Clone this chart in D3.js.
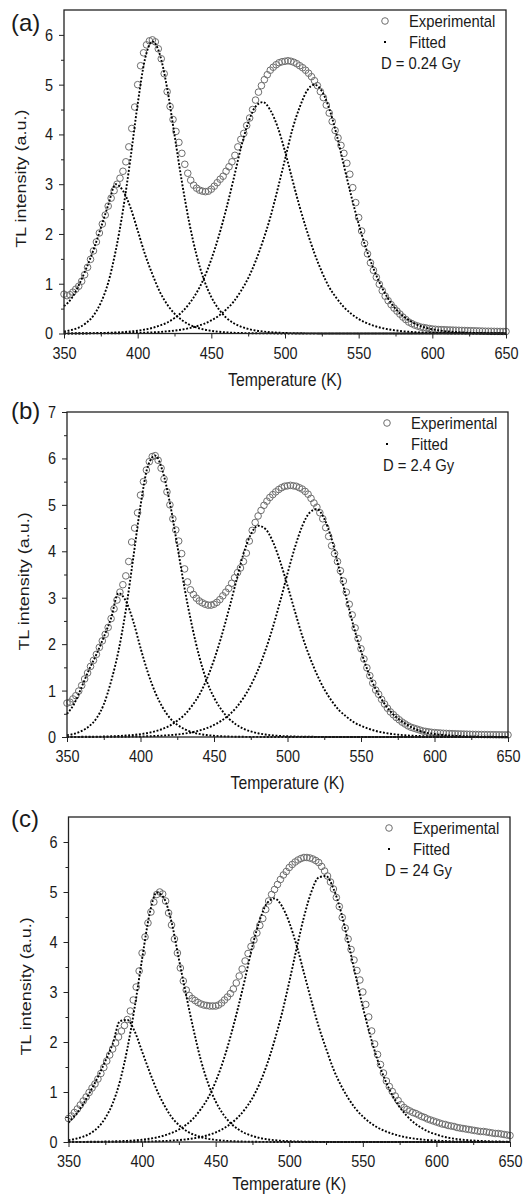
<!DOCTYPE html>
<html>
<head>
<meta charset="utf-8">
<script src="https://cdn.jsdelivr.net/npm/d3@7/dist/d3.min.js"></script>
<style>
  body { margin: 0; background: #fff; }
  text { font-family: "Liberation Sans", Arial, sans-serif; fill: #1a1a1a; }
</style>
</head>
<body>
<div id="chart"></div>
<script>
// Temperature grids (K): experimental points every 2 K, fitted curves every 5 K
var expStart = 350, expStep = 2;
var fitStart = 350, fitStep = 5;

// Axis ticks
var xTicks = [350, 400, 450, 500, 550, 600, 650];
var xMinorTicks = [375, 425, 475, 525, 575, 625];
var yTicksA = [0, 1, 2, 3, 4, 5, 6];
var yMinorA = [0.5, 1.5, 2.5, 3.5, 4.5, 5.5];
var yTicksB = [0, 1, 2, 3, 4, 5, 6, 7];
var yMinorB = [0.5, 1.5, 2.5, 3.5, 4.5, 5.5, 6.5];

var panelLabels = ["(a)", "(b)", "(c)"];
var doseLabels = ["D = 0.24 Gy", "D = 2.4 Gy", "D = 24 Gy"];
var legendLabels = ["Experimental", "Fitted"];

// ---- panel (a), D = 0.24 Gy ----
var expA = [
  0.79,0.76,0.78,0.83,0.89,0.95,1.05,1.18,1.33,1.49,
  1.66,1.84,2.02,2.20,2.38,2.56,2.72,2.87,3.00,3.12,
  3.26,3.45,3.75,4.12,4.55,5.00,5.38,5.64,5.80,5.88,
  5.90,5.86,5.72,5.52,5.22,4.86,4.56,4.30,4.06,3.84,
  3.62,3.40,3.22,3.08,2.98,2.92,2.88,2.86,2.85,2.86,
  2.90,2.96,3.03,3.10,3.16,3.26,3.35,3.45,3.58,3.75,
  3.90,4.02,4.18,4.33,4.50,4.69,4.85,4.98,5.10,5.20,
  5.29,5.35,5.40,5.44,5.46,5.47,5.48,5.47,5.45,5.42,
  5.38,5.34,5.29,5.23,5.16,5.08,4.98,4.86,4.74,4.59,
  4.43,4.26,4.08,3.93,3.78,3.62,3.42,3.20,2.93,2.63,
  2.33,2.06,1.81,1.60,1.42,1.27,1.13,0.99,0.86,0.75,
  0.66,0.58,0.51,0.45,0.39,0.33,0.28,0.23,0.20,0.17,
  0.15,0.13,0.12,0.11,0.10,0.09,0.085,0.08,0.078,0.075,
  0.072,0.07,0.068,0.066,0.064,0.062,0.06,0.058,0.056,0.054,
  0.052,0.05,0.048,0.046,0.045,0.044,0.043,0.042,0.041,0.04,
  0.04
];
var fitA1 = [
  0.55,0.70,0.97,1.30,1.68,2.12,2.58,3.00,2.87,2.54,
  2.07,1.59,1.19,0.84,0.585,0.40,0.27,0.18,0.12,0.08,
  0.053,0.035,0.023,0.015,0.01,0.007,0.004,0.003,0.002,0.001,
  0,0,0,0,0,0,0,0,0,0,0,0,0,0,0,0,0,0,0,0,0,0,0,0,0,0,0,0,0,0,0
];
var fitA2 = [
  0.04,0.07,0.12,0.21,0.36,0.62,1.02,1.65,2.47,3.49,
  4.61,5.52,5.87,5.61,4.93,3.99,3.05,2.23,1.57,1.08,
  0.73,0.49,0.32,0.21,0.14,0.092,0.06,0.04,0.026,0.017,
  0.011,0.007,0.005,0.003,0.002,0.001,
  0,0,0,0,0,0,0,0,0,0,0,0,0,0,0,0,0,0,0,0,0,0,0,0,0
];
var fitA3 = [
  0.002,0.003,0.004,0.006,0.008,0.011,0.014,0.02,0.028,0.04,
  0.056,0.08,0.113,0.16,0.22,0.31,0.43,0.60,0.82,1.11,
  1.49,1.95,2.49,3.09,3.72,4.23,4.56,4.65,4.49,4.15,
  3.66,3.09,2.54,2.05,1.61,1.24,0.93,0.71,0.53,0.395,
  0.29,0.215,0.158,0.116,0.085,0.062,0.045,0.033,0.024,0.018,
  0.013,0.009,0.007,0.005,0.004,0.003,0.002,0.002,0.001,0.001,
  0.001
];
var fitA4 = [
  0,0.001,0.001,0.001,0.002,0.003,0.004,0.005,0.007,0.009,
  0.012,0.017,0.023,0.031,0.043,0.058,0.078,0.107,0.145,0.195,
  0.265,0.354,0.48,0.635,0.85,1.11,1.45,1.86,2.33,2.90,
  3.50,4.10,4.55,4.88,5.00,4.87,4.52,4.00,3.37,2.76,
  2.20,1.71,1.31,0.97,0.70,0.50,0.35,0.25,0.17,0.12,
  0.085,0.06,0.042,0.03,0.021,0.015,0.011,0.008,0.006,0.004,
  0.003
];

// ---- panel (b), D = 2.4 Gy ----
var expB = [
  0.73,0.75,0.82,0.89,0.99,1.11,1.25,1.38,1.52,1.65,
  1.78,1.93,2.07,2.21,2.36,2.55,2.76,2.95,3.12,3.28,
  3.47,3.78,4.20,4.50,4.83,5.21,5.50,5.75,5.93,6.04,
  6.06,5.96,5.79,5.56,5.28,5.00,4.70,4.46,4.22,3.95,
  3.62,3.34,3.17,3.07,2.99,2.93,2.89,2.86,2.84,2.84,
  2.86,2.90,2.96,3.04,3.12,3.20,3.31,3.43,3.54,3.64,
  3.78,3.96,4.22,4.45,4.62,4.76,4.88,4.99,5.08,5.16,
  5.22,5.28,5.33,5.37,5.40,5.41,5.42,5.41,5.40,5.37,
  5.34,5.29,5.23,5.14,5.04,4.95,4.83,4.70,4.51,4.32,
  4.12,3.95,3.78,3.58,3.36,3.12,2.86,2.63,2.35,2.12,
  1.90,1.68,1.49,1.32,1.16,1.01,0.92,0.81,0.71,0.62,
  0.54,0.48,0.42,0.37,0.32,0.28,0.24,0.21,0.19,0.17,
  0.15,0.13,0.12,0.11,0.10,0.095,0.09,0.085,0.08,0.077,
  0.074,0.071,0.068,0.066,0.064,0.062,0.06,0.058,0.056,0.055,
  0.054,0.053,0.052,0.051,0.05,0.049,0.048,0.047,0.046,0.045,
  0.045
];
var fitB1 = [
  0.50,0.72,1.08,1.45,1.78,2.15,2.56,3.10,2.93,2.50,
  1.92,1.39,0.96,0.64,0.41,0.265,0.168,0.105,0.066,0.042,
  0.026,0.016,0.01,0.006,0.004,0.003,0.002,0.001,0,0,
  0,0,0,0,0,0,0,0,0,0,0,0,0,0,0,0,0,0,0,0,0,0,0,0,0,0,0,0,0,0,0
];
var fitB2 = [
  0.04,0.07,0.13,0.23,0.40,0.70,1.20,1.85,2.73,3.84,
  4.98,5.83,6.06,5.73,5.04,4.13,3.20,2.40,1.73,1.21,
  0.85,0.59,0.40,0.27,0.18,0.12,0.08,0.053,0.035,0.023,
  0.015,0.01,0.007,0.005,0.003,0.002,0.001,
  0,0,0,0,0,0,0,0,0,0,0,0,0,0,0,0,0,0,0,0,0,0,0,0
];
var fitB3 = [
  0.002,0.003,0.004,0.005,0.007,0.01,0.015,0.021,0.031,0.043,
  0.062,0.087,0.123,0.173,0.245,0.35,0.48,0.67,0.91,1.24,
  1.66,2.16,2.73,3.34,3.94,4.36,4.55,4.48,4.21,3.78,
  3.26,2.71,2.18,1.73,1.35,1.03,0.78,0.58,0.44,0.32,
  0.24,0.18,0.13,0.096,0.07,0.051,0.037,0.027,0.02,0.015,
  0.011,0.008,0.006,0.004,0.003,0.002,0.002,0.001,0.001,0.001,
  0
];
var fitB4 = [
  0,0.001,0.001,0.001,0.002,0.002,0.003,0.005,0.006,0.009,
  0.012,0.016,0.022,0.03,0.04,0.054,0.074,0.10,0.14,0.19,
  0.26,0.35,0.47,0.63,0.84,1.11,1.45,1.87,2.36,2.92,
  3.52,4.08,4.54,4.83,4.91,4.70,4.27,3.64,3.00,2.38,
  1.85,1.39,1.03,0.76,0.55,0.40,0.29,0.20,0.13,0.09,
  0.065,0.046,0.033,0.024,0.017,0.012,0.009,0.006,0.004,0.003,
  0.002
];

// ---- panel (c), D = 24 Gy ----
var expC = [
  0.47,0.52,0.59,0.66,0.74,0.82,0.90,0.99,1.08,1.16,
  1.26,1.37,1.49,1.62,1.74,1.86,1.98,2.10,2.22,2.33,
  2.45,2.62,2.84,3.10,3.42,3.78,4.10,4.38,4.60,4.80,
  4.95,5.00,4.96,4.82,4.58,4.34,4.06,3.78,3.48,3.22,
  3.04,2.93,2.87,2.83,2.79,2.76,2.74,2.73,2.72,2.72,
  2.72,2.74,2.78,2.84,2.90,2.97,3.06,3.18,3.32,3.46,
  3.62,3.77,3.91,4.04,4.18,4.33,4.47,4.65,4.82,4.95,
  5.05,5.15,5.25,5.34,5.41,5.49,5.55,5.60,5.64,5.67,
  5.69,5.69,5.68,5.66,5.63,5.59,5.51,5.42,5.32,5.20,
  5.06,4.89,4.71,4.49,4.28,4.06,3.85,3.64,3.43,3.24,
  3.00,2.75,2.50,2.22,1.96,1.75,1.55,1.38,1.22,1.11,
  1.01,0.92,0.83,0.75,0.69,0.65,0.62,0.59,0.57,0.54,
  0.51,0.49,0.46,0.44,0.42,0.40,0.38,0.36,0.35,0.33,
  0.32,0.31,0.29,0.28,0.27,0.26,0.25,0.24,0.23,0.22,
  0.21,0.21,0.20,0.19,0.18,0.17,0.17,0.16,0.15,0.14,
  0.13
];
var fitC1 = [
  0.39,0.55,0.76,1.02,1.30,1.62,1.96,2.42,2.44,2.21,
  1.81,1.41,1.04,0.74,0.50,0.34,0.225,0.149,0.098,0.064,
  0.042,0.028,0.018,0.012,0.008,0.005,0.003,0.002,0.001,0,
  0,0,0,0,0,0,0,0,0,0,0,0,0,0,0,0,0,0,0,0,0,0,0,0,0,0,0,0,0,0,0
];
var fitC2 = [
  0.038,0.064,0.107,0.175,0.29,0.48,0.77,1.22,1.87,2.70,
  3.66,4.55,4.99,4.87,4.40,3.66,2.93,2.24,1.63,1.16,
  0.81,0.56,0.38,0.26,0.175,0.12,0.08,0.054,0.036,0.024,
  0.016,0.011,0.007,0.005,0.003,0.002,0.001,
  0,0,0,0,0,0,0,0,0,0,0,0,0,0,0,0,0,0,0,0,0,0,0,0
];
var fitC3 = [
  0.0015,0.002,0.003,0.004,0.006,0.009,0.012,0.017,0.023,0.033,
  0.046,0.065,0.091,0.129,0.18,0.25,0.344,0.477,0.66,0.89,
  1.21,1.61,2.10,2.66,3.27,3.92,4.44,4.78,4.87,4.72,
  4.39,3.93,3.38,2.83,2.31,1.87,1.46,1.14,0.88,0.67,
  0.51,0.385,0.29,0.22,0.165,0.122,0.09,0.067,0.05,0.037,
  0.027,0.02,0.015,0.011,0.008,0.006,0.0045,0.003,0.0025,0.002,
  0.0013
];
var fitC4 = [
  0,0,0.001,0.001,0.001,0.002,0.002,0.003,0.004,0.006,
  0.008,0.011,0.015,0.02,0.028,0.038,0.053,0.073,0.10,0.14,
  0.19,0.265,0.36,0.49,0.66,0.88,1.18,1.56,2.03,2.57,
  3.20,3.87,4.50,5.00,5.29,5.32,5.07,4.62,4.00,3.34,
  2.70,2.13,1.64,1.25,0.94,0.70,0.52,0.38,0.28,0.20,
  0.15,0.105,0.076,0.055,0.04,0.029,0.021,0.015,0.011,0.008,
  0.006
];

// Page layout for the three stacked panels (pixel boxes of each plot frame)
var panels = [
  { left: 64, right: 506, top: 10, bottom: 333.5, yMax: 6.5, yTicks: yTicksA, yMinor: yMinorA,
    exp: expA, fits: [fitA1, fitA2, fitA3, fitA4], labelY: 31, titleY: 386 },
  { left: 67, right: 508, top: 412, bottom: 737, yMax: 7, yTicks: yTicksB, yMinor: yMinorB,
    exp: expB, fits: [fitB1, fitB2, fitB3, fitB4], labelY: 419, titleY: 789 },
  { left: 68.5, right: 510, top: 817, bottom: 1142, yMax: 6.5, yTicks: yTicksA, yMinor: yMinorA,
    exp: expC, fits: [fitC1, fitC2, fitC3, fitC4], labelY: 827, titleY: 1190 }
];

var svgWidth = 524;
var svgHeight = 1197;
var fontFamily = '"Liberation Sans", Arial, sans-serif';

var svg = d3.select("#chart")
  .append("svg")
  .attr("width", svgWidth)
  .attr("height", svgHeight);

function drawPanel(p, k) {
  var g = svg.append("g");

  var xScale = d3.scaleLinear().domain([350, 650]).range([p.left, p.right]);
  var yScale = d3.scaleLinear().domain([0, p.yMax]).range([p.bottom, p.top]);

  // experimental points as open grey circles
  g.append("g")
    .selectAll("circle")
    .data(p.exp)
    .join("circle")
    .attr("cx", (d, i) => xScale(expStart + i * expStep))
    .attr("cy", d => yScale(d))
    .attr("r", 3.3)
    .attr("fill", "none")
    .attr("stroke", "#6e6e6e")
    .attr("stroke-width", 1);

  // fitted glow peaks as dotted black curves
  var peakLine = d3.line()
    .x((d, i) => xScale(fitStart + i * fitStep))
    .y(d => yScale(d))
    .curve(d3.curveMonotoneX);

  g.append("g")
    .selectAll("path")
    .data(p.fits)
    .join("path")
    .attr("d", peakLine)
    .attr("fill", "none")
    .attr("stroke", "#000")
    .attr("stroke-width", 1.9)
    .attr("stroke-dasharray", "1.9,1.7");

  // x axis, major and minor ticks
  var xAxis = g.append("g")
    .attr("transform", `translate(0, ${p.bottom})`)
    .call(d3.axisBottom(xScale).tickValues(xTicks).tickSize(5).tickPadding(8))
    .attr("font-size", 17)
    .attr("font-family", fontFamily)
    .attr("color", "#222");
  xAxis.select(".domain").remove();
  xAxis.selectAll("text").attr("transform", "scale(0.85,1)");

  g.append("g")
    .attr("transform", `translate(0, ${p.bottom})`)
    .call(d3.axisBottom(xScale).tickValues(xMinorTicks).tickSize(3).tickFormat(""))
    .attr("color", "#222")
    .select(".domain").remove();

  // y axis, major and minor ticks
  var yAxis = g.append("g")
    .attr("transform", `translate(${p.left}, 0)`)
    .call(d3.axisLeft(yScale).tickValues(p.yTicks).tickSize(5).tickFormat(d3.format("d")))
    .attr("font-size", 17)
    .attr("font-family", fontFamily)
    .attr("color", "#222");
  yAxis.select(".domain").remove();
  yAxis.selectAll("text")
    .attr("x", -13)
    .attr("transform", "scale(0.85,1)");

  g.append("g")
    .attr("transform", `translate(${p.left}, 0)`)
    .call(d3.axisLeft(yScale).tickValues(p.yMinor).tickSize(3).tickFormat(""))
    .attr("color", "#222")
    .select(".domain").remove();

  // plot frame
  g.append("rect")
    .attr("x", p.left)
    .attr("y", p.top)
    .attr("width", p.right - p.left)
    .attr("height", p.bottom - p.top)
    .attr("fill", "none")
    .attr("stroke", "#222")
    .attr("stroke-width", 1.3);

  // axis titles
  g.append("text")
    .attr("transform", `translate(${(p.left + p.right) / 2}, ${p.titleY}) scale(0.83,1)`)
    .attr("text-anchor", "middle")
    .attr("font-size", 19)
    .text("Temperature (K)");

  g.append("text")
    .attr("transform", `translate(${p.left - 43}, ${(p.top + p.bottom) / 2 + 7}) rotate(-90) scale(1,0.85)`)
    .attr("text-anchor", "middle")
    .attr("dominant-baseline", "central")
    .attr("font-size", 18)
    .text("TL intensity (a.u.)");

  // panel letter
  g.append("text")
    .attr("x", 11)
    .attr("y", p.labelY)
    .attr("font-size", 24)
    .text(panelLabels[k]);

  // legend
  var textX = p.right - 97;
  var markX = p.right - 121;
  var rowY = [p.top + 11, p.top + 32, p.top + 53];

  g.append("circle")
    .attr("cx", markX)
    .attr("cy", rowY[0])
    .attr("r", 3.3)
    .attr("fill", "none")
    .attr("stroke", "#6e6e6e")
    .attr("stroke-width", 1);

  g.append("rect")
    .attr("x", markX - 1)
    .attr("y", rowY[1] - 1)
    .attr("width", 2)
    .attr("height", 2)
    .attr("fill", "#000");

  legendLabels.forEach(function(lab, j) {
    g.append("text")
      .attr("transform", `translate(${textX}, ${rowY[j]}) scale(0.87,1)`)
      .attr("dominant-baseline", "central")
      .attr("font-size", 17)
      .text(lab);
  });

  g.append("text")
    .attr("transform", `translate(${p.right - 125}, ${rowY[2]}) scale(0.87,1)`)
    .attr("dominant-baseline", "central")
    .attr("font-size", 17)
    .text(doseLabels[k]);
}

panels.forEach(drawPanel);
</script>
</body>
</html>
